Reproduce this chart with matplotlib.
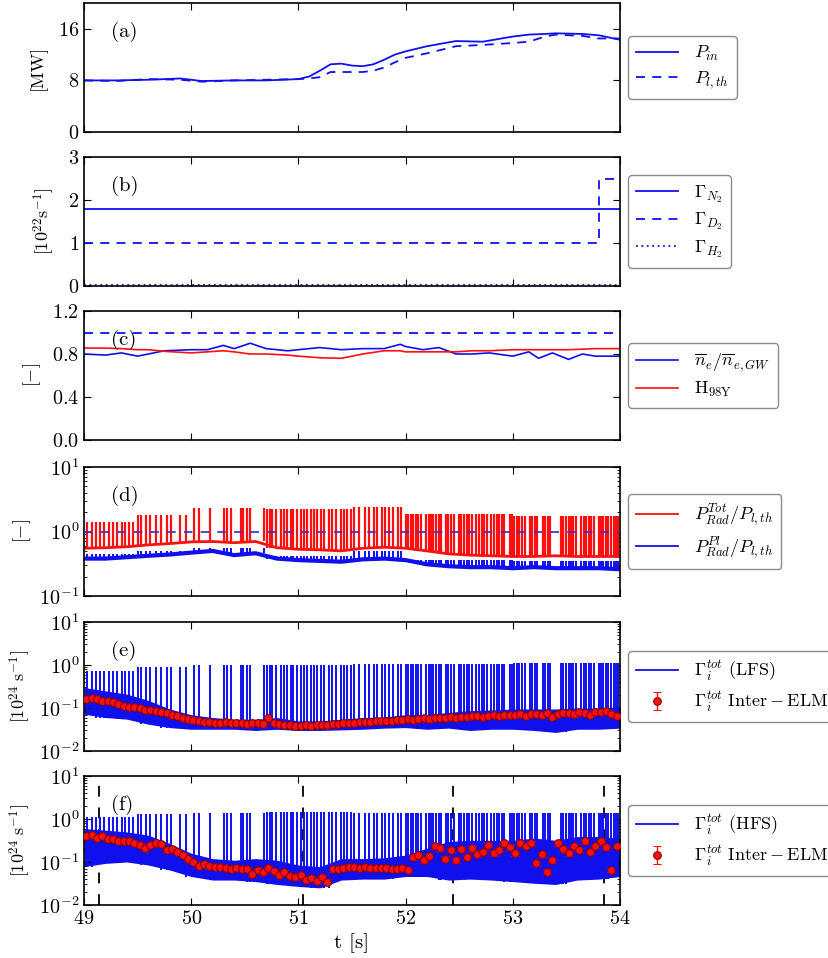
import numpy as np
import matplotlib
matplotlib.use('Agg')
import matplotlib.pyplot as plt
from matplotlib.lines import Line2D

plt.rcParams['font.family'] = 'serif'
plt.rcParams['font.serif'] = ['cmr10', 'DejaVu Serif']
plt.rcParams['mathtext.fontset'] = 'cm'
plt.rcParams['axes.formatter.use_mathtext'] = True
plt.rcParams['axes.unicode_minus'] = False

# ---- (a) heating power ----
t_a = [49.0, 49.3, 49.6, 49.9, 50.1, 50.4, 50.7, 51.0, 51.1, 51.2, 51.3, 51.4, 51.5,
       51.6, 51.7, 51.8, 51.9, 52.0, 52.2, 52.47, 52.72, 53.0, 53.15, 53.3, 53.4,
       53.65, 53.8, 54.0]
p_in = [8.0, 8.0, 8.1, 8.3, 7.9, 8.0, 8.0, 8.2, 8.6, 9.5, 10.5, 10.6, 10.3,
        10.2, 10.5, 11.2, 12.0, 12.5, 13.3, 14.1, 14.0, 14.8, 15.1, 15.2, 15.3,
        15.2, 15.0, 14.3]
p_lth = [8.0, 7.9, 8.2, 8.1, 7.8, 8.0, 8.1, 8.2, 8.3, 8.5, 9.3, 9.3, 9.3,
         9.3, 9.5, 10.0, 10.8, 11.5, 12.2, 13.3, 13.5, 13.8, 14.0, 14.8, 15.1,
         14.9, 14.5, 14.5]

# ---- (b) gas fuelling ----
t_b = [49.0, 53.8, 54.0]
g_n2 = [1.8, 1.8, 1.8]
g_d2 = [1.0, 2.5, 2.5]
g_h2 = [0.02, 0.02, 0.02]

# ---- (c) density fraction and confinement ----
t_c = [49.0, 49.2, 49.35, 49.5, 49.6, 49.75, 50.0, 50.15, 50.3, 50.4, 50.55, 50.7,
       50.9, 51.0, 51.2, 51.4, 51.6, 51.8, 51.95, 52.0, 52.16, 52.31, 52.47, 52.62,
       52.78, 53.0, 53.15, 53.24, 53.37, 53.52, 53.65, 53.77, 54.0]
ne_gw = [0.80, 0.79, 0.81, 0.78, 0.80, 0.83, 0.84, 0.84, 0.88, 0.85, 0.90, 0.85,
         0.83, 0.84, 0.86, 0.84, 0.85, 0.85, 0.89, 0.87, 0.84, 0.86, 0.80, 0.80,
         0.81, 0.78, 0.82, 0.76, 0.81, 0.75, 0.80, 0.78, 0.78]
h98 = [0.855, 0.855, 0.85, 0.84, 0.84, 0.825, 0.81, 0.82, 0.83, 0.82, 0.80, 0.80,
       0.79, 0.78, 0.765, 0.76, 0.80, 0.83, 0.83, 0.82, 0.82, 0.82, 0.82, 0.83,
       0.83, 0.84, 0.84, 0.84, 0.84, 0.84, 0.845, 0.85, 0.85]

# ---- ELM times (shared by d, e, f) ----
elm_t = [49.03, 49.07, 49.11, 49.15, 49.19, 49.23, 49.27, 49.31, 49.35, 49.38,
         49.42, 49.46, 49.50, 49.535, 49.575, 49.62, 49.67, 49.715, 49.775, 49.815,
         49.90, 49.95, 50.025, 50.075, 50.18, 50.305, 50.33, 50.37, 50.46, 50.485,
         50.52, 50.55,
         50.679, 50.704, 50.735, 50.757, 50.788, 50.835, 50.866, 50.897, 50.928,
         50.953, 50.990, 51.021, 51.052, 51.077, 51.114, 51.146, 51.177, 51.214,
         51.239, 51.285, 51.317, 51.348, 51.394, 51.425, 51.456, 51.488,
         51.518, 51.568, 51.621, 51.661, 51.705, 51.736, 51.776, 51.808, 51.848,
         51.885, 51.932, 51.954,
         52.00, 52.025, 52.05, 52.07, 52.095, 52.12, 52.14, 52.19, 52.215, 52.24,
         52.26, 52.285, 52.31, 52.33, 52.38, 52.40, 52.425, 52.45, 52.50, 52.52,
         52.545, 52.57, 52.59, 52.615, 52.66, 52.685, 52.71, 52.73, 52.755, 52.80,
         52.825, 52.85, 52.87, 52.895, 52.92, 52.97, 52.99, 53.015, 53.04, 53.06,
         53.085, 53.11, 53.16, 53.18, 53.205, 53.23, 53.28, 53.30, 53.325, 53.35,
         53.45, 53.47, 53.495, 53.52, 53.54, 53.565, 53.59, 53.64, 53.66, 53.685,
         53.71, 53.73, 53.755, 53.80, 53.82, 53.845, 53.87, 53.89, 53.915, 53.94,
         53.96, 53.985]

# ELM peak level per time segment
seg_edges = [49.0, 49.5, 50.0, 50.68, 51.5, 52.0, 53.0, 54.01]
peak_d_tot = [1.4, 1.8, 2.3, 2.2, 2.4, 1.9, 1.75]
peak_d_pl = [0.45, 0.50, 0.56, 0.42, 0.50, 0.36, 0.35]
peak_e = [0.72, 0.9, 1.0, 0.98, 1.05, 1.05, 1.1]
peak_f = [1.1, 1.3, 1.4, 1.45, 1.4, 1.35, 1.4]

# ---- inter-ELM baselines (0.2 s sampling) ----
t_base = [49.0, 49.2, 49.4, 49.6, 49.8, 50.0, 50.2, 50.4, 50.6, 50.8, 51.0, 51.2, 51.4,
          51.6, 51.8, 52.0, 52.2, 52.4, 52.6, 52.8, 53.0, 53.2, 53.4, 53.6, 53.8, 54.0]
prad_tot = [0.55, 0.56, 0.58, 0.62, 0.65, 0.69, 0.70, 0.67, 0.70, 0.56, 0.53, 0.52, 0.50,
            0.55, 0.57, 0.55, 0.50, 0.45, 0.43, 0.42, 0.41, 0.41, 0.42, 0.41, 0.41, 0.41]
prad_pl = [0.38, 0.38, 0.40, 0.42, 0.44, 0.47, 0.50, 0.43, 0.46, 0.38, 0.36, 0.35, 0.34,
           0.37, 0.38, 0.36, 0.31, 0.29, 0.28, 0.28, 0.27, 0.28, 0.27, 0.27, 0.27, 0.26]
lfs_lo = [0.072, 0.06, 0.055, 0.042, 0.035, 0.032, 0.032, 0.032, 0.03, 0.032, 0.03, 0.03,
          0.031, 0.032, 0.034, 0.035, 0.032, 0.034, 0.03, 0.032, 0.032, 0.03, 0.027, 0.032,
          0.032, 0.034]
lfs_hi = [0.30, 0.25, 0.21, 0.15, 0.095, 0.07, 0.06, 0.055, 0.055, 0.06, 0.05, 0.05, 0.055,
          0.06, 0.062, 0.07, 0.07, 0.079, 0.087, 0.09, 0.095, 0.095, 0.095, 0.10, 0.10, 0.107]
hfs_lo = [0.078, 0.093, 0.10, 0.085, 0.065, 0.046, 0.038, 0.038, 0.035, 0.03, 0.027, 0.025,
          0.038, 0.04, 0.04, 0.046, 0.046, 0.038, 0.04, 0.038, 0.035, 0.032, 0.03, 0.038,
          0.04, 0.046]
hfs_hi = [0.60, 0.55, 0.50, 0.42, 0.27, 0.16, 0.12, 0.11, 0.12, 0.11, 0.085, 0.078, 0.12,
          0.12, 0.125, 0.145, 0.21, 0.30, 0.32, 0.32, 0.32, 0.36, 0.32, 0.39, 0.39, 0.36]

# ---- inter-ELM averaged fluxes (red points) ----
lfs_ie = [0.165, 0.168, 0.158, 0.148, 0.145, 0.135, 0.125, 0.112, 0.108, 0.105,
          0.100, 0.092, 0.088, 0.086, 0.082, 0.078, 0.068, 0.066, 0.058, 0.055,
          0.052, 0.050, 0.047, 0.048, 0.045, 0.044, 0.048, 0.045, 0.046, 0.044,
          0.042, 0.044, 0.046, 0.042, 0.058, 0.045, 0.042, 0.041, 0.040, 0.039,
          0.039, 0.040, 0.039, 0.040, 0.041, 0.040, 0.042, 0.043, 0.044, 0.046,
          0.045, 0.047, 0.048, 0.048, 0.050, 0.049, 0.051, 0.050, 0.052, 0.053,
          0.055, 0.054, 0.056, 0.058, 0.055, 0.059, 0.060, 0.058, 0.062, 0.060,
          0.063, 0.061, 0.064, 0.066, 0.062, 0.065, 0.068, 0.064, 0.067, 0.070,
          0.068, 0.072, 0.066, 0.071, 0.074, 0.069, 0.075, 0.062, 0.073, 0.077,
          0.076, 0.072, 0.080, 0.078, 0.070, 0.082, 0.079, 0.085, 0.074, 0.066]
hfs_ie = [0.40, 0.42, 0.37, 0.40, 0.35, 0.34, 0.31, 0.30, 0.31, 0.28,
          0.25, 0.21, 0.25, 0.28, 0.26, 0.19, 0.20, 0.17, 0.146, 0.12,
          0.10, 0.082, 0.088, 0.080, 0.078, 0.076, 0.074, 0.070, 0.072, 0.069,
          0.070, 0.052, 0.066, 0.058, 0.072, 0.062, 0.050, 0.057, 0.048, 0.044,
          0.050, 0.038, 0.042, 0.036, 0.045, 0.035, 0.068, 0.070, 0.072, 0.075,
          0.075, 0.073, 0.076, 0.072, 0.074, 0.071, 0.073, 0.070, 0.068, 0.072,
          0.065, 0.13, 0.145, 0.11, 0.14, 0.23, 0.21, 0.12, 0.19, 0.11,
          0.20, 0.13, 0.21, 0.15, 0.17, 0.25, 0.16, 0.19, 0.27, 0.22,
          0.16, 0.27, 0.24, 0.28, 0.093, 0.15, 0.06, 0.11, 0.27, 0.20,
          0.16, 0.24, 0.19, 0.30, 0.17, 0.24, 0.30, 0.22, 0.065, 0.24]
t_ie = np.linspace(49.02, 53.97, len(lfs_ie))
err_frac = 0.12

# times of the vertical markers in (f)
t_marks = [49.14, 51.04, 52.44, 53.85]

elm = np.array(elm_t)
seg = np.searchsorted(seg_edges, elm, side='right') - 1
near = np.abs(np.array(t_base)[:, None] - elm[None, :]).argmin(axis=0)

blue = '#1010ee'
red = '#ff1010'

fig = plt.figure(figsize=(8.29, 9.58), dpi=100)
left, width, h = 84 / 829, 536 / 829, 129 / 958
tops = [3, 157, 311, 467, 622, 776]
axs = [fig.add_axes([left, 1 - (tp + 129) / 958, width, h]) for tp in tops]

leg_kw = dict(loc='center left', bbox_to_anchor=(1.015, 0.5), borderaxespad=0,
              fontsize=13, handlelength=2.3, handletextpad=0.9, labelspacing=0.35,
              fancybox=True, framealpha=1, edgecolor='0.55', borderpad=0.45)

# (a)
ax = axs[0]
ax.plot(t_a, p_in, color=blue, lw=1.3, label='$P_{in}$')
ax.plot(t_a, p_lth, color=blue, lw=1.3, ls=(0, (5, 4)), label='$P_{l,th}$')
ax.set_ylim(0, 20)
ax.set_yticks([0, 8, 16])
ax.set_ylabel('[MW]')
ax.legend(**leg_kw)

# (b)
ax = axs[1]
ax.plot(t_b, g_n2, color=blue, lw=1.3, label=r'$\Gamma_{N_2}$')
ax.plot(t_b, g_d2, color=blue, lw=1.3, ls=(0, (5, 4)), drawstyle='steps-post',
        label=r'$\Gamma_{D_2}$')
ax.plot(t_b, g_h2, color=blue, lw=1.3, ls=(0, (1, 2)), label=r'$\Gamma_{H_2}$')
ax.set_ylim(0, 3)
ax.set_yticks([0, 1, 2, 3])
ax.set_ylabel(r'$[10^{22}\mathrm{s}^{-1}]$')
ax.legend(**leg_kw)

# (c)
ax = axs[2]
ax.axhline(1.0, color=blue, lw=1.3, ls=(0, (5, 4)))
ax.plot(t_c, ne_gw, color=blue, lw=1.2, label=r'$\overline{n}_e/\overline{n}_{e,GW}$')
ax.plot(t_c, h98, color=red, lw=1.2, label=r'$\mathrm{H}_{98\mathrm{Y}}$')
ax.set_ylim(0, 1.2)
ax.set_yticks([0, 0.4, 0.8, 1.2])
ax.set_ylabel('$[-]$')
ax.legend(**leg_kw)

# (d)
ax = axs[3]
ax.set_yscale('log')
ax.vlines(elm, np.array(prad_tot)[near], np.array(peak_d_tot)[seg], color=red, lw=1.6)
ax.plot(t_base, prad_tot, color=red, lw=2.0)
ax.vlines(elm, np.array(prad_pl)[near], np.array(peak_d_pl)[seg], color=blue, lw=1.4)
ax.plot(t_base, prad_pl, color=blue, lw=3.0)
ax.axhline(1.0, color='#3030d0', lw=1.2, ls=(0, (5, 5)), zorder=5)
ax.set_ylim(0.1, 10)
ax.set_ylabel('$[-]$')
ax.legend([Line2D([], [], color=red, lw=1.3), Line2D([], [], color=blue, lw=1.3)],
          [r'$P_{Rad}^{Tot}/P_{l,th}$', r'$P_{Rad}^{Pl}/P_{l,th}$'], **leg_kw)

# (e) and (f)
for ax, lo, hi, pk, ie, side in [(axs[4], lfs_lo, lfs_hi, peak_e, lfs_ie, 'LFS'),
                                  (axs[5], hfs_lo, hfs_hi, peak_f, hfs_ie, 'HFS')]:
    ax.set_yscale('log')
    if side == 'HFS':
        for tm in t_marks:
            ax.axvline(tm, color='k', lw=1.3, ls=(0, (6, 6)), zorder=0)
    ax.fill_between(t_base, lo, hi, color=blue, lw=0, zorder=1)
    ax.vlines(elm, np.array(lo)[near], np.array(pk)[seg], color=blue, lw=1.4, zorder=2)
    ie = np.array(ie)
    eb = ax.errorbar(t_ie, ie, yerr=err_frac * ie, fmt='o', ms=5.5, mfc=red,
                     mec='#8b0000', mew=0.8, ecolor=red, elinewidth=1, capsize=3,
                     zorder=4)
    ax.set_ylim(0.01, 10)
    ax.set_ylabel(r'$[10^{24}\ \mathrm{s}^{-1}]$')
    ax.legend([Line2D([], [], color=blue, lw=1.3), eb],
              [r'$\Gamma_i^{tot}$ (%s)' % side, r'$\Gamma_i^{tot}\ \mathrm{Inter-ELM}$'],
              **leg_kw)

labels = ['(a)', '(b)', '(c)', '(d)', '(e)', '(f)']
label_x = [-0.069, -0.050, -0.076, -0.095, -0.095, -0.095]
for ax, lab, lx in zip(axs, labels, label_x):
    ax.set_xlim(49, 54)
    ax.set_xticks([49, 50, 51, 52, 53, 54])
    ax.tick_params(which='both', direction='in', top=True, right=True, labelsize=14.5)
    ax.tick_params(which='major', length=5)
    ax.tick_params(which='minor', length=2.5)
    for s in ax.spines.values():
        s.set_linewidth(1.2)
    ax.text(0.05, 0.74, lab, transform=ax.transAxes, fontsize=15, zorder=6)
    ax.yaxis.label.set_fontsize(13)
    ax.yaxis.set_label_coords(lx, 0.5)
    if ax is not axs[-1]:
        ax.set_xticklabels([])

axs[-1].set_xlabel('t [s]', fontsize=15)

fig.savefig('out.png', dpi=100)
